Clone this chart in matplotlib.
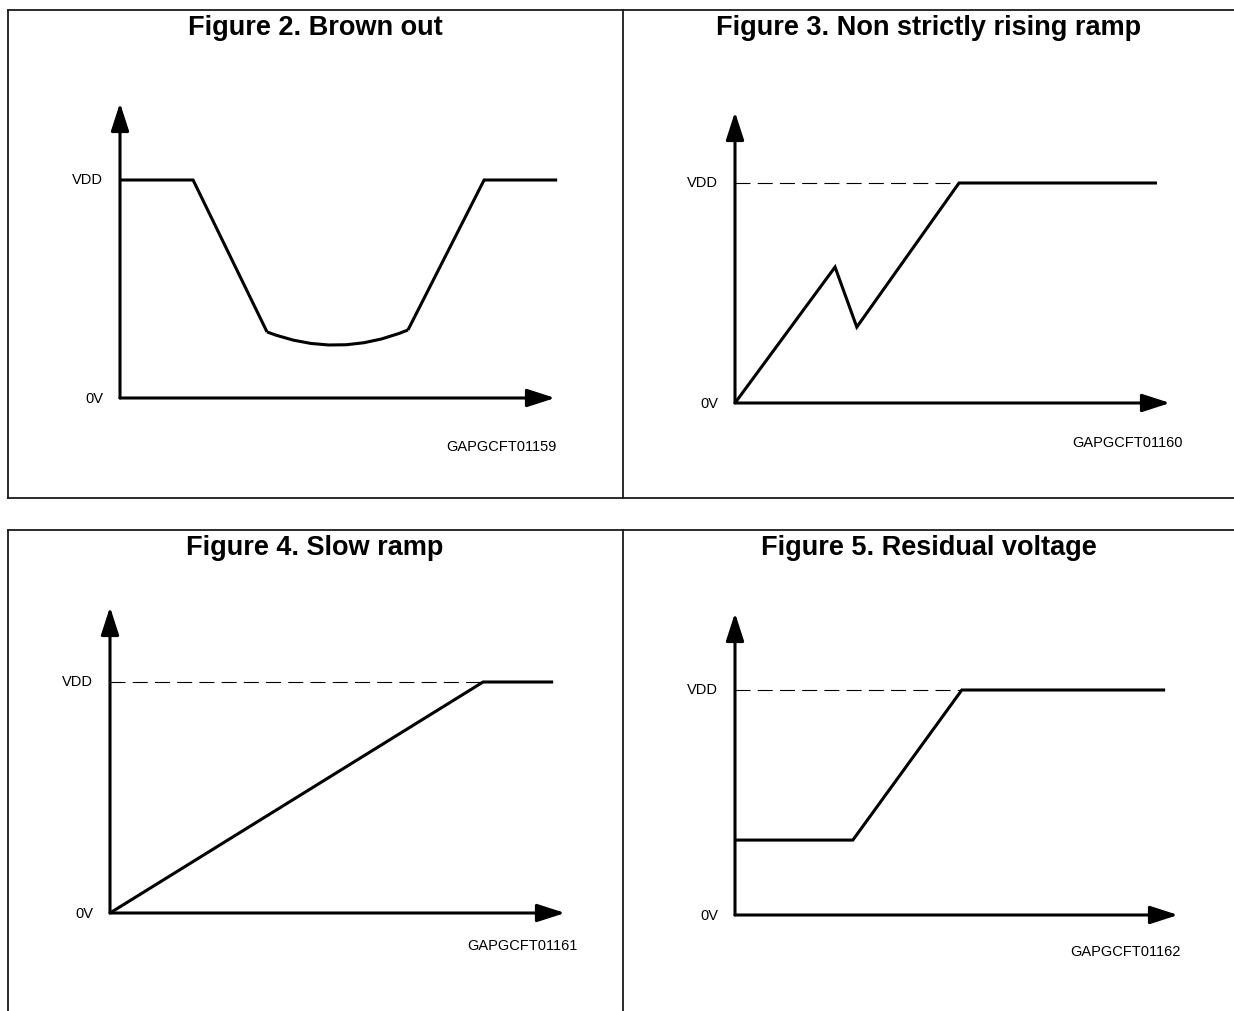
"""
Power supply ramp figures (brown out, non monotonic ramp, slow ramp, residual voltage)
"""

import matplotlib
matplotlib.use("Agg")
from matplotlib import pyplot as plt
from matplotlib.lines import Line2D
from matplotlib.path import Path
from matplotlib.patches import PathPatch

W, H = 1234, 1011
DPI = 100

# Data: time in % of the x-axis length, voltage as a fraction of VDD
# Brown out: falling edge, rounded dip (start, control, end), rising edge
fig2_fall_t = [0, 16.8, 33.8]
fig2_fall_v = [1, 1, 0.303]
fig2_dip_t = [33.8, 50.0, 66.2]
fig2_dip_v = [0.303, 0.178, 0.312]
fig2_rise_t = [66.2, 83.7, 100.5]
fig2_rise_v = [0.312, 1, 1]

fig3_t = [0, 23.0, 28.0, 51.5, 97.0]
fig3_v = [0, 0.618, 0.345, 1, 1]

fig4_t = [0, 82.0, 97.4]
fig4_v = [0, 1, 1]

fig5_t = [0, 26.6, 51.2, 97.1]
fig5_v = [0.333, 0.333, 1, 1]

titles = ["Figure 2. Brown out", "Figure 3. Non strictly rising ramp",
          "Figure 4. Slow ramp", "Figure 5. Residual voltage"]
codes = ["GAPGCFT01159", "GAPGCFT01160", "GAPGCFT01161", "GAPGCFT01162"]

plt.rcParams["font.family"] = ["Liberation Sans", "DejaVu Sans"]

fig = plt.figure(figsize=(W / DPI, H / DPI), dpi=DPI)
fig.patch.set_facecolor("white")


def px(x, y):
    # pixel position -> figure fraction
    return x / W, 1 - y / H


# Frames around the figures
def frame_line(x0, y0, x1, y1):
    (a, b), (c, d) = px(x0, y0), px(x1, y1)
    fig.add_artist(Line2D([a, c], [b, d], color="#1a1a1a", lw=1.3))

for top, bottom in [(10, 498), (530, 1030)]:
    frame_line(8, top, 1250, top)
    frame_line(8, bottom, 1250, bottom)
    frame_line(8, top, 8, bottom)
    frame_line(623, top, 623, bottom)

# Titles
for (tx, ty), title in zip([(315, 28), (929, 28), (315, 548), (929, 548)], titles):
    fig.text(*px(tx, ty), title, ha="center", va="center",
             fontsize=19.5, fontweight="bold", color="black")


def panel(origin, tip_x, tip_y, vdd_y, code, code_off, dashed_to=None):
    ox, oy = origin
    ytop = (oy - tip_y) / (oy - vdd_y)
    left, bottom = px(ox, oy)
    ax = fig.add_axes([left, bottom, (tip_x - ox) / W, (oy - tip_y) / H])
    ax.set_xlim(0, 100)
    ax.set_ylim(0, ytop)
    ax.axis("off")

    # Axes with arrow heads
    arrow = dict(arrowstyle="-|>,head_length=1.7,head_width=0.55", color="black",
                 lw=2.2, shrinkA=0, shrinkB=0, mutation_scale=10)
    ax.annotate("", xy=(0, ytop), xytext=(0, 0), arrowprops=arrow, annotation_clip=False)
    ax.annotate("", xy=(100, 0), xytext=(0, 0), arrowprops=arrow, annotation_clip=False)

    # VDD reference line
    if dashed_to is not None:
        ax.plot([0, dashed_to], [1, 1], color="black", lw=0.8,
                dashes=(13.5, 6.5), clip_on=False)

    # Labels
    ax.annotate("VDD", xy=(0, 1), xytext=(-12, 0), textcoords="offset points",
                ha="right", va="center", fontsize=10.5)
    ax.annotate("0V", xy=(0, 0), xytext=(-12, -1), textcoords="offset points",
                ha="right", va="center", fontsize=10.5)
    ax.annotate(code, xy=(100, 0), xytext=code_off, textcoords="offset points",
                ha="right", va="center", fontsize=10.5,
                family=["Liberation Sans Narrow", "Liberation Sans", "DejaVu Sans"])
    return ax


def wave(ax, t, v):
    ax.plot(t, v, color="black", lw=2.2, solid_joinstyle="miter",
            solid_capstyle="butt", clip_on=False)


ax2 = panel((120, 398), 555, 103, 180, codes[0], (1, -35))
wave(ax2, fig2_fall_t, fig2_fall_v)
wave(ax2, fig2_rise_t, fig2_rise_v)
dip = Path(list(zip(fig2_dip_t, fig2_dip_v)), [Path.MOVETO, Path.CURVE3, Path.CURVE3])
ax2.add_patch(PathPatch(dip, facecolor="none", edgecolor="black", lw=2.2,
                        capstyle="butt", clip_on=False))

ax3 = panel((735, 403), 1170, 112, 183, codes[1], (9, -29), dashed_to=51.5)
wave(ax3, fig3_t, fig3_v)

ax4 = panel((110, 913), 565, 607, 682, codes[2], (9, -24), dashed_to=82.0)
wave(ax4, fig4_t, fig4_v)

ax5 = panel((735, 915), 1178, 613, 690, codes[3], (2, -27), dashed_to=51.2)
wave(ax5, fig5_t, fig5_v)

plt.savefig("out.png", dpi=DPI)
plt.close()
